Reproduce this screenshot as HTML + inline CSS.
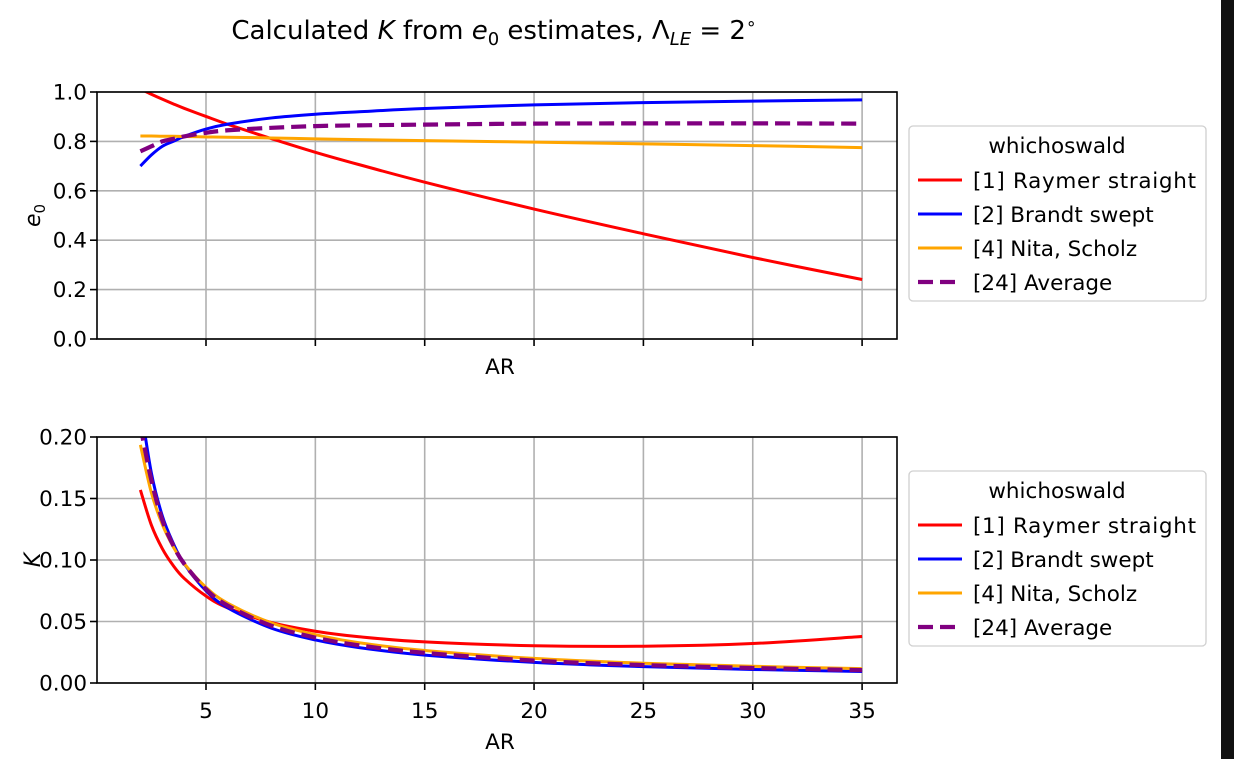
<!DOCTYPE html>
<html><head><meta charset="utf-8"><style>
body{margin:0;background:#fff}
svg{display:block;font-family:"DejaVu Sans","Liberation Sans",sans-serif}
</style></head><body>
<svg id="chart" width="1234" height="759" viewBox="0 0 1234 759">
<rect x="1221" y="0" width="13" height="759" fill="#111"/>
<text x="494" y="39" font-size="26" text-anchor="middle">Calculated <tspan font-style="italic">K</tspan> from <tspan font-style="italic">e</tspan><tspan font-size="18" dy="6">0</tspan><tspan dy="-6"> estimates, Λ</tspan><tspan font-size="18" dy="6" font-style="italic">LE</tspan><tspan dy="-6"> = 2</tspan><tspan font-size="17" dy="-10">∘</tspan></text>
<defs>
<clipPath id="c1"><rect x="97" y="92" width="800" height="247"/></clipPath>
<clipPath id="c2"><rect x="97" y="437" width="800" height="246"/></clipPath>
</defs>
<g id="top"></g>
<g id="bot"></g>
</svg>
<script>
const AR=[2,2.5,3,3.5,4,5,6,8,10,12,15,20,25,30,35];
const e0Raymer=[1.012,0.991,0.971,0.952,0.934,0.901,0.869,0.811,0.756,0.706,0.635,0.526,0.426,0.330,0.241];
const e0Brandt=[0.70,0.745,0.78,0.80,0.82,0.85,0.87,0.895,0.91,0.92,0.933,0.948,0.957,0.963,0.968];
const e0Nita=[0.822,0.822,0.821,0.821,0.820,0.818,0.817,0.814,0.810,0.807,0.803,0.797,0.790,0.783,0.775];
const e0Avg=[0.76,0.78,0.80,0.81,0.82,0.835,0.845,0.855,0.862,0.865,0.868,0.872,0.873,0.873,0.872];
const kRaymer=[0.157,0.1285,0.1093,0.0955,0.0851,0.0707,0.0610,0.0491,0.0421,0.0376,0.0334,0.0303,0.0299,0.0321,0.0378];
const kBrandt=[0.227,0.171,0.136,0.1137,0.097,0.0749,0.061,0.0445,0.035,0.0288,0.0227,0.0168,0.0133,0.0110,0.0094];
const kNita=[0.1936,0.1549,0.129,0.1108,0.0971,0.0778,0.0648,0.0488,0.0393,0.0327,0.0264,0.0200,0.0161,0.0136,0.0117];
const kAvg=[0.209,0.165,0.1326,0.112,0.097,0.0762,0.0628,0.0465,0.0369,0.0306,0.0245,0.0182,0.0146,0.0122,0.0105];
const xTicks=[5,10,15,20,25,30,35];
const yTicksTop=[0,0.2,0.4,0.6,0.8,1.0];
const yTicksBot=[0,0.05,0.10,0.15,0.20];
const legendLabels=["[1] Raymer straight","[2] Brandt swept","[4] Nita, Scholz","[24] Average"];
const colors=["#ff0000","#0000ff","#ffa500","#800080"];
const NS="http://www.w3.org/2000/svg";
const X=a=>206+(a-5)*21.87;
function mk(p,tag,at){const e=document.createElementNS(NS,tag);for(const k in at)e.setAttribute(k,at[k]);p.appendChild(e);return e;}
function smooth(pts){let d="M"+pts[0][0]+","+pts[0][1];for(let i=0;i<pts.length-1;i++){const p0=pts[Math.max(i-1,0)],p1=pts[i],p2=pts[i+1],p3=pts[Math.min(i+2,pts.length-1)];
const c1=[p1[0]+(p2[0]-p0[0])/6,p1[1]+(p2[1]-p0[1])/6],c2=[p2[0]-(p3[0]-p1[0])/6,p2[1]-(p3[1]-p1[1])/6];d+=" C"+c1+" "+c2+" "+p2;}return d;}
function panel(g,y0,y1,vmax,ticks,fmt,series,clip,ylab,showX,legTop){
 const Y=v=>y1-(v/vmax)*(y1-y0);
 xTicks.forEach(t=>{const l=mk(g,"line",{x1:X(t),x2:X(t),y1:y0,y2:y1,stroke:"#b0b0b0","stroke-width":1.6});
 
 const tk=mk(g,"line",{x1:X(t),x2:X(t),y1:y1,y2:y1+7,stroke:"#000","stroke-width":1.6});
 
 if(showX){const tx=mk(g,"text",{x:X(t),y:y1+35,"font-size":21.5,"text-anchor":"middle"});tx.textContent=t;
 }});
 ticks.forEach(t=>{const l=mk(g,"line",{x1:97,x2:897,y1:Y(t),y2:Y(t),stroke:"#b0b0b0","stroke-width":1.6});
 
 const tk=mk(g,"line",{x1:90,x2:97,y1:Y(t),y2:Y(t),stroke:"#000","stroke-width":1.6});
 
 const tx=mk(g,"text",{x:87,y:Y(t)+7.5,"font-size":21.5,"text-anchor":"end"});tx.textContent=fmt(t);
 });
 series.forEach((s,i)=>{const pts=AR.map((a,j)=>[X(a).toFixed(2),Y(s[j]).toFixed(2)].map(Number));
 const p=mk(g,"path",{d:smooth(pts),fill:"none",stroke:colors[i],"stroke-width":i==3?4.2:3,"clip-path":"url(#"+clip+")"});
 if(i==3)p.setAttribute("stroke-dasharray","15,7");
 });
 const fr=mk(g,"rect",{x:97,y:y0,width:800,height:y1-y0,fill:"none",stroke:"#000","stroke-width":1.6});
 
 const xl=mk(g,"text",{x:500,y:showX?y1+66:y1+35,"font-size":21.5,"text-anchor":"middle"});xl.textContent="AR";
 
 const yl=mk(g,"text",{x:0,y:0,"font-size":22,"font-style":"italic","text-anchor":"middle",transform:"translate(40,"+((y0+y1)/2)+") rotate(-90)"});
 yl.innerHTML=ylab;
 
 const lg=mk(g,"g",{});
 const lb=mk(lg,"rect",{x:909,y:legTop,width:297,height:175,rx:4,fill:"#fff",stroke:"#d0d0d0","stroke-width":1.3});
 
 const lt=mk(lg,"text",{x:1057,y:legTop+27,"font-size":21.5,"text-anchor":"middle"});lt.textContent="whichoswald";
 
 legendLabels.forEach((n,i)=>{const yy=legTop+54+i*34;
 const ll=mk(lg,"line",{x1:918,x2:962,y1:yy,y2:yy,stroke:colors[i],"stroke-width":i==3?4.2:3});
 if(i==3)ll.setAttribute("stroke-dasharray","15,7");
 
 const tx=mk(lg,"text",{x:973,y:yy+8,"font-size":21.5,textLength:n.length>17?223:null});tx.textContent=n;
 if(!(n.length>17))tx.removeAttribute("textLength");
 });
}
panel(document.getElementById("top"),92,339,1.0,yTicksTop,t=>t.toFixed(1),[e0Raymer,e0Brandt,e0Nita,e0Avg],"c1",'e<tspan font-size="15" dy="5" font-style="normal">0</tspan>',false,126);
panel(document.getElementById("bot"),437,683,0.2,yTicksBot,t=>t.toFixed(2),[kRaymer,kBrandt,kNita,kAvg],"c2",'K',true,471);
</script>
</body></html>
